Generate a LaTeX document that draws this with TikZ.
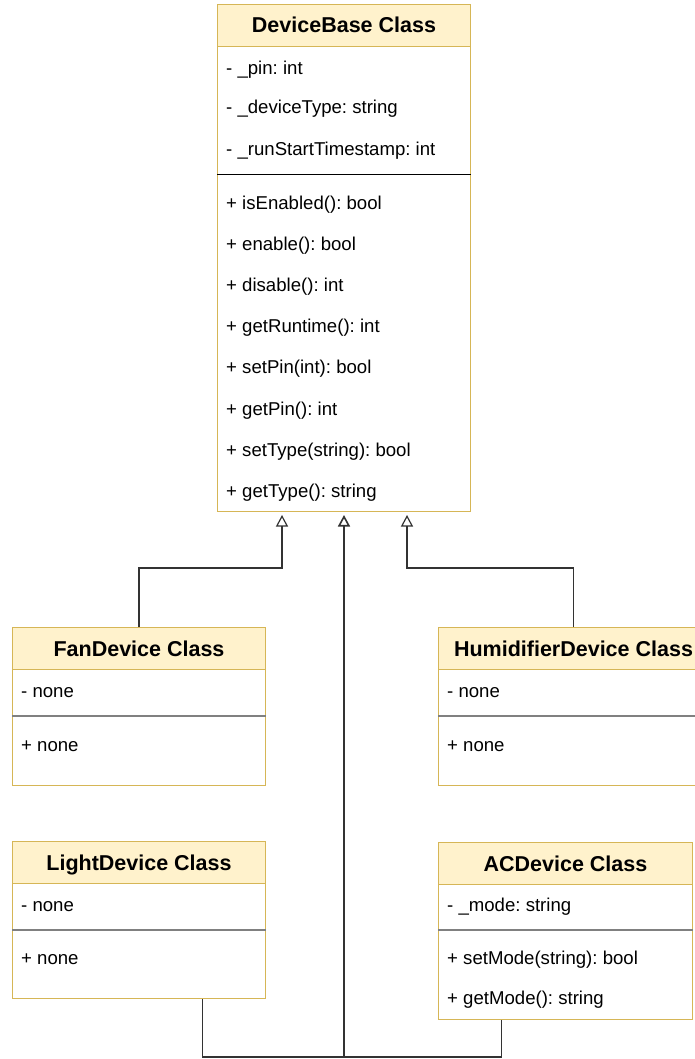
\documentclass[tikz,border=0pt]{standalone}
\usepackage{fontspec}
\setmainfont{Liberation Sans}
\usetikzlibrary{arrows.meta,calc}
\definecolor{hdrfill}{HTML}{FFF2CC}
\definecolor{hdrline}{HTML}{D6B656}
\definecolor{conn}{HTML}{333333}
\definecolor{divgray}{HTML}{808080}
\frenchspacing
\begin{document}
\begin{tikzpicture}[x=1pt,y=-1pt,
  classbox/.style={draw=hdrline, line width=1pt, fill=white, anchor=north west, inner sep=0pt},
  classhead/.style={draw=hdrline, line width=1pt, fill=hdrfill, anchor=north west, inner sep=0pt,
    minimum height=42pt, font=\fontsize{21.5}{25}\selectfont\bfseries, text height=15pt, text depth=0pt},
  member/.style={anchor=base west, inner sep=0pt, font=\fontsize{18.6}{22}\selectfont},
  divblack/.style={draw=black, line width=1pt},
  divsoft/.style={draw=divgray, line width=1.8pt},
  inh/.style={draw=conn, line width=1.2pt, -{Triangle[length=11.5pt,width=12pt,fill=white]}},
  link/.style={draw=conn, line width=1.2pt},
]
\useasboundingbox (0,0) rectangle (695,1059);
\fill[white] (0,0) rectangle (695,1059);

% ---------- DeviceBase ----------
\node[classbox, minimum width=253pt, minimum height=507pt] (base) at (217,4) {};
\node[classhead, minimum width=253pt] (basehead) at (217,4) {DeviceBase Class};
\coordinate (bdiv) at (0,175);
\draw[divblack] (base.west |- bdiv) -- (base.east |- bdiv);
\node[member] (b1) at (226,75) {- \_pin: int};
\node[member] (b2) at (226,114) {- \_deviceType: string};
\node[member] (b3) at (226,156) {- \_runStartTimestamp: int};
\node[member] (m1) at (226,209.5) {+ isEnabled(): bool};
\node[member] (m2) at (226,250.6) {+ enable(): bool};
\node[member] (m3) at (226,291.7) {+ disable(): int};
\node[member] (m4) at (226,332.8) {+ getRuntime(): int};
\node[member] (m5) at (226,373.9) {+ setPin(int): bool};
\node[member] (m6) at (226,415) {+ getPin(): int};
\node[member] (m7) at (226,456.1) {+ setType(string): bool};
\node[member] (m8) at (226,497.2) {+ getType(): string};

% ---------- FanDevice ----------
\node[classbox, minimum width=253pt, minimum height=158pt] (fanbox) at (12,627) {};
\node[classhead, minimum width=253pt] (fanhead) at (12,627) {FanDevice Class};
\coordinate (fdiv) at (0,716);
\draw[divsoft] (fanbox.west |- fdiv) -- (fanbox.east |- fdiv);
\node[member] (f1) at (21,697) {- none};
\node[member] (f2) at (21,751) {+ none};

% ---------- HumidifierDevice ----------
\node[classbox, minimum width=270pt, minimum height=158pt] (humbox) at (438,627) {};
\node[classhead, minimum width=270pt] (humhead) at (438,627) {HumidifierDevice Class};
\draw[divsoft] (humbox.west |- fdiv) -- (humbox.east |- fdiv);
\node[member] (h1) at (447,697) {- none};
\node[member] (h2) at (447,751) {+ none};

% ---------- LightDevice ----------
\node[classbox, minimum width=253pt, minimum height=157pt] (lightbox) at (12,841) {};
\node[classhead, minimum width=253pt] (lighthead) at (12,841) {LightDevice Class};
\coordinate (ldiv) at (0,930);
\draw[divsoft] (lightbox.west |- ldiv) -- (lightbox.east |- ldiv);
\node[member] (l1) at (21,911) {- none};
\node[member] (l2) at (21,964) {+ none};

% ---------- ACDevice ----------
\node[classbox, minimum width=254pt, minimum height=177pt] (acbox) at (438,842) {};
\node[classhead, minimum width=254pt] (achead) at (438,842) {ACDevice Class};
\draw[divsoft] (acbox.west |- ldiv) -- (acbox.east |- ldiv);
\node[member] (a1) at (447,911) {- \_mode: string};
\node[member] (a2) at (447,964) {+ setMode(string): bool};
\node[member] (a3) at (447,1004) {+ getMode(): string};

% ---------- connectors ----------
\coordinate (tipL) at ([xshift=65pt,yshift=-3pt]base.south west);
\coordinate (tipC) at ([xshift=127pt,yshift=-3pt]base.south west);
\coordinate (tipR) at ([xshift=190pt,yshift=-3pt]base.south west);
\coordinate (elbow) at (0,568);
\coordinate (botY) at (0,1057);
\coordinate (lightattach) at ($(lightbox.south west)!0.75!(lightbox.south east)$);
\coordinate (acattach) at ($(acbox.south west)!0.25!(acbox.south east)$);

\draw[inh] (fanhead.north) |- (elbow -| tipL) -- (tipL);
\draw[inh] (humhead.north) |- (elbow -| tipR) -- (tipR);
\draw[link] (lightattach) |- (botY -| tipC) -| (acattach);
\draw[inh, line width=1.6pt] (botY -| tipC) -- (tipC);
\end{tikzpicture}
\end{document}
